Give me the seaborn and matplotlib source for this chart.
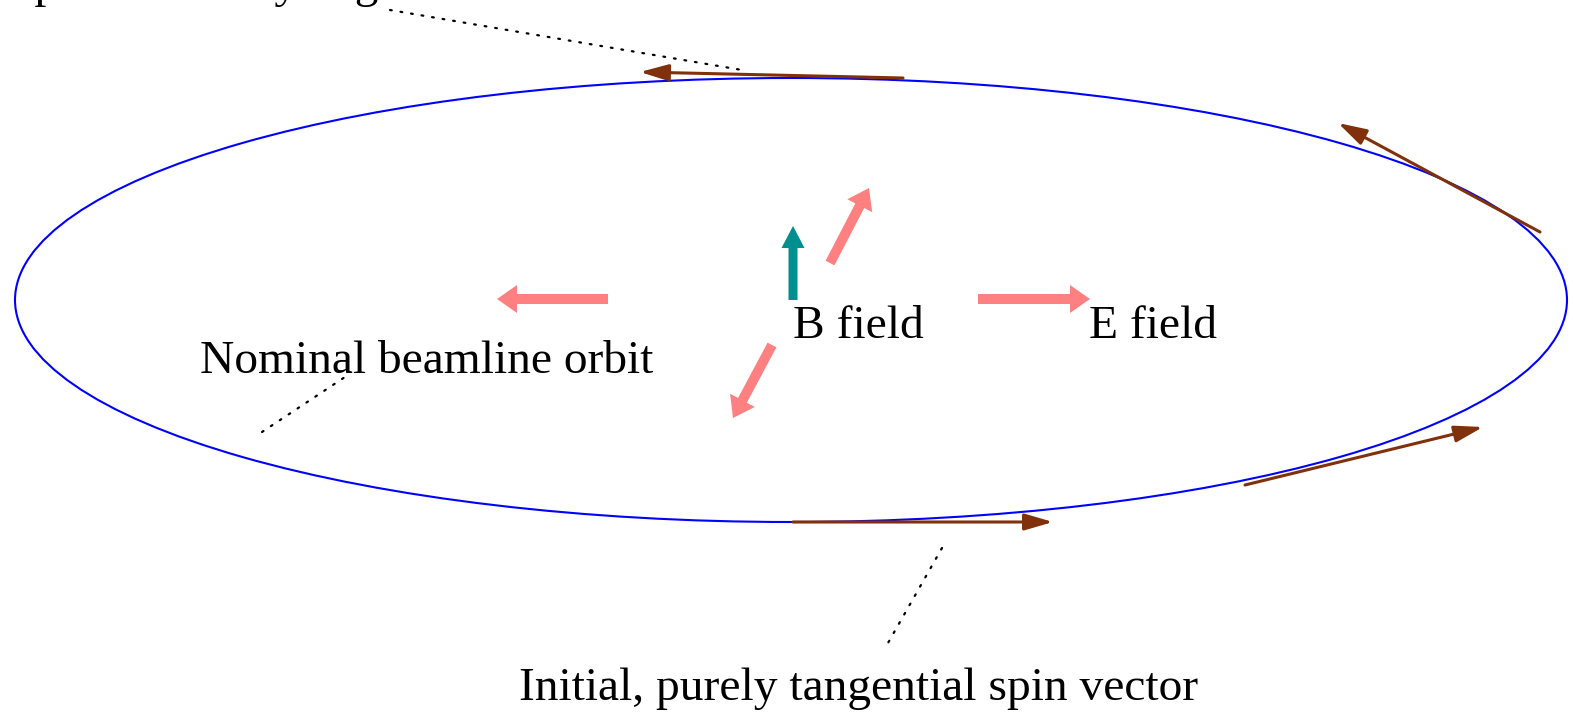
import numpy as np
import matplotlib
matplotlib.use("Agg")
import matplotlib.pyplot as plt
from matplotlib.patches import Ellipse, FancyArrowPatch
import seaborn as sns

# diagram laid out in pixel coordinates of the 1573x712 picture (y grows downward)
orbit_center = (791, 300)
orbit_size = (1552, 444)

# spin vectors along the orbit: (tail x, tail y, tip x, tip y)
spin_tail_x = [793, 1245, 1540, 903]
spin_tail_y = [522, 485, 232, 78]
spin_tip_x = [1053, 1483, 1338, 640]
spin_tip_y = [522, 427, 123, 72]

# E field arrows (radial, pink)
efield_tail_x = [978, 608, 830, 772]
efield_tail_y = [299, 299, 263, 345]
efield_tip_x = [1090, 497, 869, 733]
efield_tip_y = [299, 299, 188, 418]

# B field arrow (vertical, teal)
bfield_tail = (793, 300)
bfield_tip = (793, 226)

# dotted leader lines
leader_x0 = [390, 262, 942]
leader_y0 = [10, 432, 548]
leader_x1 = [742, 348, 888]
leader_y1 = [70, 375, 643]

labels = ["Spin rotated by angle", "Nominal beamline orbit", "B field",
          "E field", "Initial, purely tangential spin vector"]
label_x = [8, 200, 793, 1089, 519]
label_y = [-3, 373, 338, 338, 700]

sns.set_theme(style="white")
plt.rcParams['font.family'] = ['Liberation Serif', 'DejaVu Serif']

fig = plt.figure(figsize=(15.73, 7.12), dpi=100)
ax = fig.add_axes([0, 0, 1, 1])
ax.set_xlim(0, 1573)
ax.set_ylim(712, 0)
ax.axis("off")

ax.add_patch(Ellipse(orbit_center, orbit_size[0], orbit_size[1],
                     fill=False, edgecolor="#0000ff", lw=1.5))

px = 72 / 100  # pixels -> points

for x0, y0, x1, y1 in zip(spin_tail_x, spin_tail_y, spin_tip_x, spin_tip_y):
    ax.add_patch(FancyArrowPatch((x0, y0), (x1, y1),
                                 arrowstyle=f"-|>,head_length={24*px},head_width={7*px}",
                                 mutation_scale=1, color="#80300a", lw=2.2,
                                 shrinkA=0, shrinkB=0))

pink_style = f"simple,head_length={20*px},head_width={28*px},tail_width={10*px}"
for x0, y0, x1, y1 in zip(efield_tail_x, efield_tail_y, efield_tip_x, efield_tip_y):
    ax.add_patch(FancyArrowPatch((x0, y0), (x1, y1), arrowstyle=pink_style,
                                 mutation_scale=1, color="#ff8080", lw=0,
                                 shrinkA=0, shrinkB=0))

teal_style = f"simple,head_length={22*px},head_width={23*px},tail_width={9*px}"
ax.add_patch(FancyArrowPatch(bfield_tail, bfield_tip, arrowstyle=teal_style,
                             mutation_scale=1, color="#008f8f", lw=0,
                             shrinkA=0, shrinkB=0))

for x0, y0, x1, y1 in zip(leader_x0, leader_y0, leader_x1, leader_y1):
    ax.plot([x0, x1], [y0, y1], color="black", lw=1.6, linestyle=(0, (0.8, 4)),
            dash_capstyle="round")

for t, x, y in zip(labels, label_x, label_y):
    ax.text(x, y, t, fontsize=34.2, ha="left", va="baseline", color="black")

fig.savefig("out.png", dpi=100)
